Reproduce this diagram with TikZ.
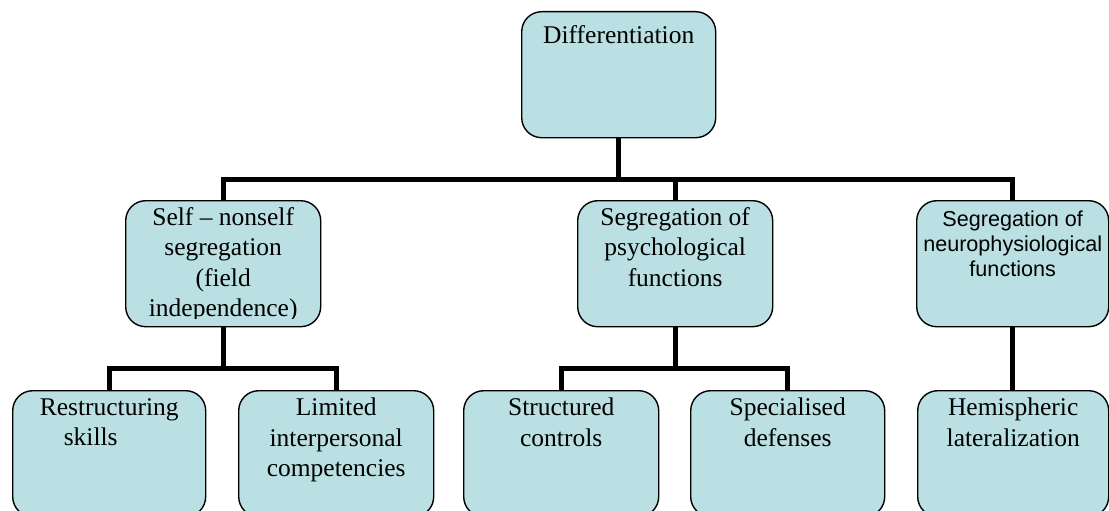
\documentclass[tikz,border=0pt]{standalone}
\usepackage{fontspec}
\setmainfont{Liberation Serif}
\newfontfamily\sansfam{Liberation Sans}
\usetikzlibrary{backgrounds}
\definecolor{boxfill}{RGB}{186,224,227}
\begin{document}
\begin{tikzpicture}[x=1pt,y=-1pt,
  box/.style={draw=black, line width=1.4pt, fill=boxfill, rounded corners=20pt,
              inner sep=0pt, anchor=north west, minimum width=#1, minimum height=126pt},
  box/.default=195pt,
  % the first line of every label gets a 22pt strut, so the node's top
  % lies 22pt above the first baseline
  txt/.style={anchor=north, align=center, inner sep=0pt,
              execute at begin node={\rule{0pt}{22pt}},
              font=\fontsize{25.5}{30.5}\selectfont},
  stxt/.style={txt, font=\sansfam\fontsize{21.6}{24.8}\selectfont},
  link/.style={line width=5pt, line join=miter, line cap=butt}]
\clip (0,0) rectangle (1109,511);

% level 0
\node[box=194pt] (top) at (521,11) {};
% level 1
\node[box] (self) at (125,200) {};
\node[box] (psych) at (577,200) {};
\node[box=192pt] (neuro) at (916,200) {};
% level 2
\node[box=193pt] (restr) at (12,390) {};
\node[box] (limit) at (238,390) {};
\node[box] (struct) at (463,390) {};
\node[box=194pt] (spec) at (690,390) {};
\node[box=191pt] (hemi) at (917,390) {};

% junction points of the connectors
\coordinate (j0) at (top.south |- 0,179);
\coordinate (j1) at (self.south |- 0,368);
\coordinate (j2) at (psych.south |- 0,368);

\begin{scope}[on background layer]
  \draw[link] (top.south) -- (j0);
  \draw[link] (self.north) |- (j0) -| (neuro.north);
  \draw[link] (psych.north) -- (psych.north |- j0);
  \draw[link] (self.south) -- (j1);
  \draw[link] (restr.north) |- (j1) -| (limit.north);
  \draw[link] (psych.south) -- (j2);
  \draw[link] (struct.north) |- (j2) -| (spec.north);
  \draw[link] (neuro.south) -- (neuro.south |- hemi.north);
\end{scope}

% box texts
\node[txt] (tTop) at ([yshift=-10pt]top.north) {Differentiation};
\begin{scope}
  % the last line runs past the text area of the box and is cut off
  \clip (125,203) rectangle (320,318);
  \node[txt] (tSelf) at ([yshift=-7pt]self.north)
    {Self – nonself\\segregation\\(field\\independence)};
\end{scope}
\node[txt] (tPsych) at ([yshift=-7pt]psych.north)
  {Segregation of\\psychological\\functions};
\node[stxt] (tNeuro) at ([yshift=-11pt]neuro.north)
  {Segregation of\\neurophysiological\\functions};
\node[txt] (tRestr) at ([yshift=-8pt]restr.north)
  {Restructuring\\skills\hspace*{37pt}};
\node[txt] (tLimit) at ([yshift=-8pt]limit.north)
  {Limited\\interpersonal\\competencies};
\node[txt] (tStruct) at ([yshift=-8pt]struct.north)
  {Structured\\controls};
\node[txt] (tSpec) at ([yshift=-8pt]spec.north)
  {Specialised\\defenses};
\node[txt] (tHemi) at ([yshift=-8pt]hemi.north)
  {Hemispheric\\lateralization};
\end{tikzpicture}
\end{document}
